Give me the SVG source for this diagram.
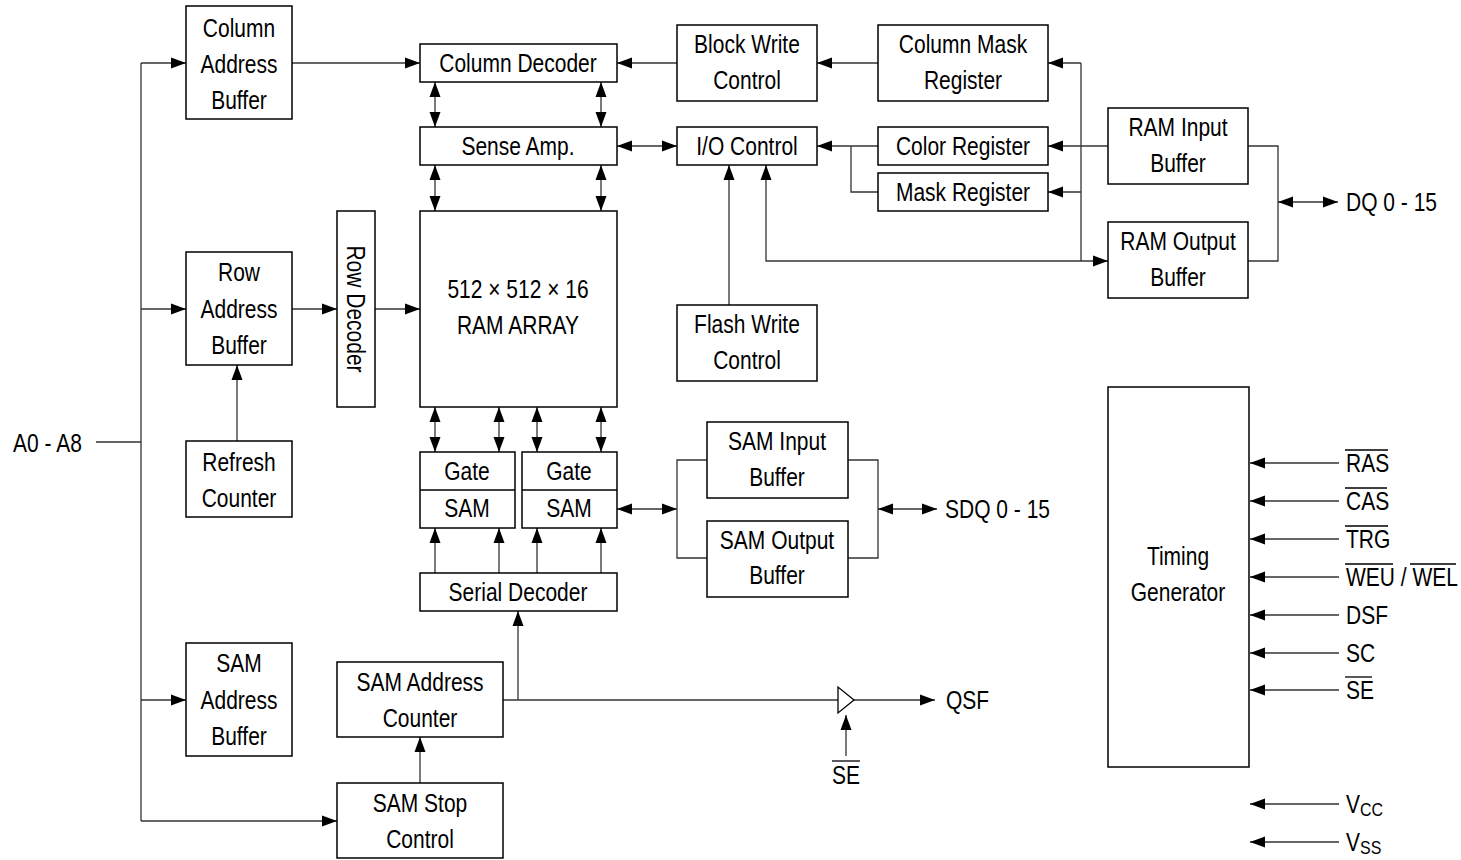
<svg xmlns="http://www.w3.org/2000/svg" width="1461" height="860" viewBox="0 0 1461 860">
<style>
.b{fill:#fff;stroke:#000;stroke-width:1.5}
.t{font-family:"Liberation Sans",Arial,sans-serif;font-size:25px;fill:#000;text-anchor:middle;dominant-baseline:central}
.l{text-anchor:start}
.c{fill:none;stroke:#333;stroke-width:1.3}
.e{marker-end:url(#a)}
.s{marker-start:url(#a)}
.o{stroke:#000;stroke-width:1.3}
</style>
<defs>
<marker id="a" markerWidth="16" markerHeight="12" refX="15" refY="6" orient="auto-start-reverse" markerUnits="userSpaceOnUse" viewBox="0 0 16 12"><path d="M0,0.5 L15,6 L0,11.5z" fill="#000"/></marker>
</defs>
<rect width="1461" height="860" fill="#fff"/>
<g id="connectors">
<path class="c" d="M96,442 H141 M141,63 V821"/>
<path class="c e" d="M141,63 H186"/>
<path class="c e" d="M141,309 H186"/>
<path class="c e" d="M141,700 H186"/>
<path class="c e" d="M141,821 H337"/>
<path class="c e" d="M292,63 H420"/>
<path class="c e" d="M292,309 H337"/>
<path class="c e" d="M375,309 H420"/>
<path class="c e" d="M237,441 V365"/>
<path class="c e s" d="M435,82 V127"/>
<path class="c e s" d="M601,82 V127"/>
<path class="c e s" d="M435,165 V211"/>
<path class="c e s" d="M601,165 V211"/>
<path class="c e" d="M677,63 H617"/>
<path class="c e" d="M878,63 H817"/>
<path class="c e s" d="M617,146 H677"/>
<path class="c e" d="M878,146 H817"/>
<path class="c" d="M878,192 H851 V146"/>
<path class="c e" d="M729,305 V165"/>
<path class="c e s" d="M766,165 V261 H1108"/>
<path class="c e" d="M1108,146 H1048"/>
<path class="c" d="M1081,63 V261"/>
<path class="c e" d="M1081,63 H1048"/>
<path class="c e" d="M1081,192 H1048"/>
<path class="c" d="M1248,146 H1278 V261 H1248"/>
<path class="c e s" d="M1278,202 H1338"/>
<path class="c e s" d="M435,407 V452"/>
<path class="c e s" d="M499,407 V452"/>
<path class="c e s" d="M537,407 V452"/>
<path class="c e s" d="M601,407 V452"/>
<path class="c e" d="M435,573 V528"/>
<path class="c e" d="M499,573 V528"/>
<path class="c e" d="M537,573 V528"/>
<path class="c e" d="M601,573 V528"/>
<path class="c e s" d="M617,509 H677"/>
<path class="c" d="M707,460 H677 V558 H707"/>
<path class="c" d="M848,460 H878 V558 H848"/>
<path class="c e s" d="M878,509 H937"/>
<path class="c e" d="M420,783 V737"/>
<path class="c" d="M503,700 H838"/>
<path class="c e" d="M518,700 V611"/>
<path class="c e" d="M854,700 H935"/>
<path class="c e" d="M846,756 V715"/>
<path class="c e" d="M1339,463 H1250"/>
<path class="c e" d="M1339,501 H1250"/>
<path class="c e" d="M1339,539 H1250"/>
<path class="c e" d="M1339,577 H1250"/>
<path class="c e" d="M1339,615 H1250"/>
<path class="c e" d="M1339,653 H1250"/>
<path class="c e" d="M1339,690 H1250"/>
<path class="c e" d="M1339,804 H1250"/>
<path class="c e" d="M1339,842 H1250"/>
<polygon points="838,687 838,713 854,700" fill="#fff" stroke="#000" stroke-width="1.3"/>
</g>
<g id="col-addr-buf"><rect class="b" x="186" y="6" width="106" height="113"/><text class="t" transform="translate(239,28) scale(.84,1)">Column</text><text class="t" transform="translate(239,64) scale(.84,1)">Address</text><text class="t" transform="translate(239,100) scale(.84,1)">Buffer</text></g>
<g id="row-addr-buf"><rect class="b" x="186" y="252" width="106" height="113"/><text class="t" transform="translate(239,272) scale(.84,1)">Row</text><text class="t" transform="translate(239,309) scale(.84,1)">Address</text><text class="t" transform="translate(239,345) scale(.84,1)">Buffer</text></g>
<g id="refresh"><rect class="b" x="186" y="441" width="106" height="76"/><text class="t" transform="translate(239,462) scale(.84,1)">Refresh</text><text class="t" transform="translate(239,498) scale(.84,1)">Counter</text></g>
<g id="sam-addr-buf"><rect class="b" x="186" y="643" width="106" height="113"/><text class="t" transform="translate(239,663) scale(.84,1)">SAM</text><text class="t" transform="translate(239,700) scale(.84,1)">Address</text><text class="t" transform="translate(239,736) scale(.84,1)">Buffer</text></g>
<g id="row-dec"><rect class="b" x="337" y="211" width="38" height="196"/><text class="t" transform="translate(356,309) rotate(90) scale(.84,1)">Row Decoder</text></g>
<g id="col-dec"><rect class="b" x="420" y="44" width="197" height="38"/><text class="t" transform="translate(518,63) scale(.84,1)">Column Decoder</text></g>
<g id="sense"><rect class="b" x="420" y="127" width="197" height="38"/><text class="t" transform="translate(518,146) scale(.84,1)">Sense Amp.</text></g>
<g id="ram"><rect class="b" x="420" y="211" width="197" height="196"/><text class="t" transform="translate(518,289) scale(.84,1)">512 × 512 × 16</text><text class="t" transform="translate(518,325) scale(.84,1)">RAM ARRAY</text></g>
<g id="gate1"><rect class="b" x="420" y="452" width="95" height="76"/><path class="o" d="M420,490 H515"/><text class="t" transform="translate(467,471) scale(.84,1)">Gate</text><text class="t" transform="translate(467,508) scale(.84,1)">SAM</text></g>
<g id="gate2"><rect class="b" x="522" y="452" width="95" height="76"/><path class="o" d="M522,490 H617"/><text class="t" transform="translate(569,471) scale(.84,1)">Gate</text><text class="t" transform="translate(569,508) scale(.84,1)">SAM</text></g>
<g id="serial-dec"><rect class="b" x="420" y="573" width="197" height="38"/><text class="t" transform="translate(518,592) scale(.84,1)">Serial Decoder</text></g>
<g id="sam-addr-cnt"><rect class="b" x="337" y="662" width="166" height="75"/><text class="t" transform="translate(420,682) scale(.84,1)">SAM Address</text><text class="t" transform="translate(420,718) scale(.84,1)">Counter</text></g>
<g id="sam-stop"><rect class="b" x="337" y="783" width="166" height="75"/><text class="t" transform="translate(420,803) scale(.84,1)">SAM Stop</text><text class="t" transform="translate(420,839) scale(.84,1)">Control</text></g>
<g id="block-write"><rect class="b" x="677" y="25" width="140" height="76"/><text class="t" transform="translate(747,44) scale(.84,1)">Block Write</text><text class="t" transform="translate(747,80) scale(.84,1)">Control</text></g>
<g id="io-ctrl"><rect class="b" x="677" y="127" width="140" height="38"/><text class="t" transform="translate(747,146) scale(.84,1)">I/O Control</text></g>
<g id="flash-write"><rect class="b" x="677" y="305" width="140" height="76"/><text class="t" transform="translate(747,324) scale(.84,1)">Flash Write</text><text class="t" transform="translate(747,360) scale(.84,1)">Control</text></g>
<g id="col-mask"><rect class="b" x="878" y="25" width="170" height="76"/><text class="t" transform="translate(963,44) scale(.84,1)">Column Mask</text><text class="t" transform="translate(963,80) scale(.84,1)">Register</text></g>
<g id="color-reg"><rect class="b" x="878" y="127" width="170" height="38"/><text class="t" transform="translate(963,146) scale(.84,1)">Color Register</text></g>
<g id="mask-reg"><rect class="b" x="878" y="173" width="170" height="38"/><text class="t" transform="translate(963,192) scale(.84,1)">Mask Register</text></g>
<g id="ram-in"><rect class="b" x="1108" y="108" width="140" height="76"/><text class="t" transform="translate(1178,127) scale(.84,1)">RAM Input</text><text class="t" transform="translate(1178,163) scale(.84,1)">Buffer</text></g>
<g id="ram-out"><rect class="b" x="1108" y="222" width="140" height="76"/><text class="t" transform="translate(1178,241) scale(.84,1)">RAM Output</text><text class="t" transform="translate(1178,277) scale(.84,1)">Buffer</text></g>
<g id="sam-in"><rect class="b" x="707" y="422" width="141" height="76"/><text class="t" transform="translate(777,441) scale(.84,1)">SAM Input</text><text class="t" transform="translate(777,477) scale(.84,1)">Buffer</text></g>
<g id="sam-out"><rect class="b" x="707" y="521" width="141" height="76"/><text class="t" transform="translate(777,540) scale(.84,1)">SAM Output</text><text class="t" transform="translate(777,575) scale(.84,1)">Buffer</text></g>
<g id="timing"><rect class="b" x="1108" y="387" width="141" height="380"/><text class="t" transform="translate(1178,556) scale(.84,1)">Timing</text><text class="t" transform="translate(1178,592) scale(.84,1)">Generator</text></g>
<g id="labels">
<text class="t l" transform="translate(13,443) scale(.84,1)">A0 - A8</text>
<text class="t l" transform="translate(1346,202) scale(.84,1)">DQ 0 - 15</text>
<text class="t l" transform="translate(945,509) scale(.84,1)">SDQ 0 - 15</text>
<text class="t l" transform="translate(946,700) scale(.84,1)">QSF</text>
<text class="t" transform="translate(846,775) scale(.84,1)">SE</text><path class="o" d="M832,761 H860"/>
<text class="t l" transform="translate(1346,463) scale(.84,1)">RAS</text><path class="o" d="M1345,450 H1388"/>
<text class="t l" transform="translate(1346,501) scale(.84,1)">CAS</text><path class="o" d="M1345,488 H1387"/>
<text class="t l" transform="translate(1346,539) scale(.84,1)">TRG</text><path class="o" d="M1345,526 H1388"/>
<text class="t l" transform="translate(1346,577) scale(.84,1)">WEU / WEL</text><path class="o" d="M1345,564 H1393 M1410,564 H1456"/>
<text class="t l" transform="translate(1346,615) scale(.84,1)">DSF</text>
<text class="t l" transform="translate(1346,653) scale(.84,1)">SC</text>
<text class="t l" transform="translate(1346,690) scale(.84,1)">SE</text><path class="o" d="M1345,677 H1372"/>
<text class="t l" transform="translate(1346,804) scale(.84,1)">V<tspan font-size="19" dy="5">CC</tspan></text>
<text class="t l" transform="translate(1346,842) scale(.84,1)">V<tspan font-size="19" dy="5">SS</tspan></text>
</g>
</svg>
